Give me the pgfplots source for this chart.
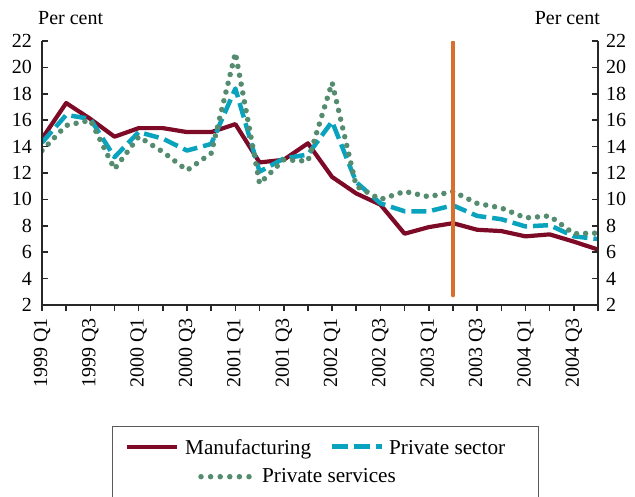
\documentclass[border=0pt]{standalone}
\usepackage{fontspec}
\setmainfont{Liberation Serif}
\usepackage{pgfplots}
\pgfplotsset{compat=1.18}
\definecolor{manuf}{RGB}{125,10,38}
\definecolor{sector}{RGB}{10,163,190}
\definecolor{services}{RGB}{85,140,112}
\definecolor{orangeline}{RGB}{216,112,45}
\definecolor{axisgray}{RGB}{40,40,40}
\definecolor{legendgray}{RGB}{90,90,90}
\begin{document}
\fontsize{20}{24}\selectfont
\begin{tikzpicture}
\useasboundingbox (-42pt,-191pt) rectangle (593pt,305pt);
\pgfplotsset{base/.style={scale only axis, width=556pt, height=264pt, at={(0pt,0pt)}, anchor=south west,
  xmin=0, xmax=23, ymin=2, ymax=22,
  font=\fontsize{20}{24}\selectfont,
  /pgf/number format/assume math mode=true,
  axis line style={line width=2.2pt, color=axisgray},
  every tick/.style={line width=1.6pt, color=axisgray},
  major tick length=6pt,
  tick label style={inner sep=0pt, text=black}}}
% x axis and data
\begin{axis}[base,
  axis x line*=bottom, axis y line=none,
  tick align=outside,
  xtick={0,...,23},
  xticklabels={1999 Q1,,1999 Q3,,2000 Q1,,2000 Q3,,2001 Q1,,2001 Q3,,2002 Q1,,2002 Q3,,2003 Q1,,2003 Q3,,2004 Q1,,2004 Q3,},
  x tick label style={rotate=90, anchor=east},
  xticklabel shift=7pt,
  ytick=\empty,
  line join=round]
\addplot[manuf, line width=4.2pt, mark=none] coordinates {
(0,14.6) (1,17.3) (2,16.1) (3,14.75) (4,15.4) (5,15.4) (6,15.1) (7,15.1)
(8,15.7) (9,12.8) (10,13.0) (11,14.25) (12,11.7) (13,10.45) (14,9.6) (15,7.4)
(16,7.9) (17,8.2) (18,7.7) (19,7.6) (20,7.2) (21,7.35) (22,6.8) (23,6.2)};
\addplot[sector, line width=4.5pt, mark=none, dash pattern=on 15pt off 6pt] coordinates {
(0,14.3) (1,16.4) (2,16.1) (3,13.2) (4,15.1) (5,14.6) (6,13.7) (7,14.2)
(8,18.4) (9,12.1) (10,13.1) (11,13.4) (12,15.9) (13,11.3) (14,9.7) (15,9.1)
(16,9.1) (17,9.55) (18,8.75) (19,8.5) (20,7.95) (21,8.05) (22,7.2) (23,7.0)};
\addplot[services, line width=5.5pt, mark=none, line cap=round, dash pattern=on 0pt off 9pt] coordinates {
(0,13.7) (1,15.6) (2,16.0) (3,12.3) (4,14.75) (5,13.6) (6,12.2) (7,13.5)
(8,21.1) (9,11.2) (10,13.0) (11,12.9) (12,18.85) (13,11.0) (14,10.0) (15,10.6)
(16,10.2) (17,10.6) (18,9.7) (19,9.35) (20,8.6) (21,8.75) (22,7.4) (23,7.45)};
\addplot[orangeline, line width=4.5pt, line cap=round, mark=none] coordinates {(17,2.75) (17,21.9)};
\end{axis}
% left y axis
\begin{axis}[base,
  axis y line*=left, axis x line=none,
  tick align=inside, xtick=\empty,
  ytick={2,4,...,22},
  yticklabel shift=10pt]
\end{axis}
% right y axis
\begin{axis}[base,
  axis y line*=right, axis x line=none,
  tick align=inside, xtick=\empty,
  ytick={2,4,...,22},
  yticklabel shift=8pt]
\end{axis}
\node[anchor=base west, inner sep=0pt] at (-4pt,280pt) {Per cent};
\node[anchor=base east, inner sep=0pt] at (558pt,280pt) {Per cent};
% legend
\begingroup
\fontsize{21.2}{25}\selectfont
\draw[legendgray, line width=1pt] (70pt,-200pt) -- (70pt,-121pt) -- (496pt,-121pt) -- (496pt,-200pt);
\draw[manuf, line width=4.2pt] (85pt,-141.7pt) -- (135pt,-141.7pt);
\node[anchor=base west, inner sep=0pt] at (143pt,-149pt) {Manufacturing};
\draw[sector, line width=4.5pt, dash pattern=on 16pt off 6pt] (290pt,-141.7pt) -- (340pt,-141.7pt);
\node[anchor=base west, inner sep=0pt] at (347pt,-149pt) {Private sector};
\draw[services, line width=5.5pt, line cap=round, dash pattern=on 0pt off 9.6pt] (159pt,-171.7pt) -- (210pt,-171.7pt);
\node[anchor=base west, inner sep=0pt] at (220pt,-177.7pt) {Private services};
\endgroup
\end{tikzpicture}
\end{document}
